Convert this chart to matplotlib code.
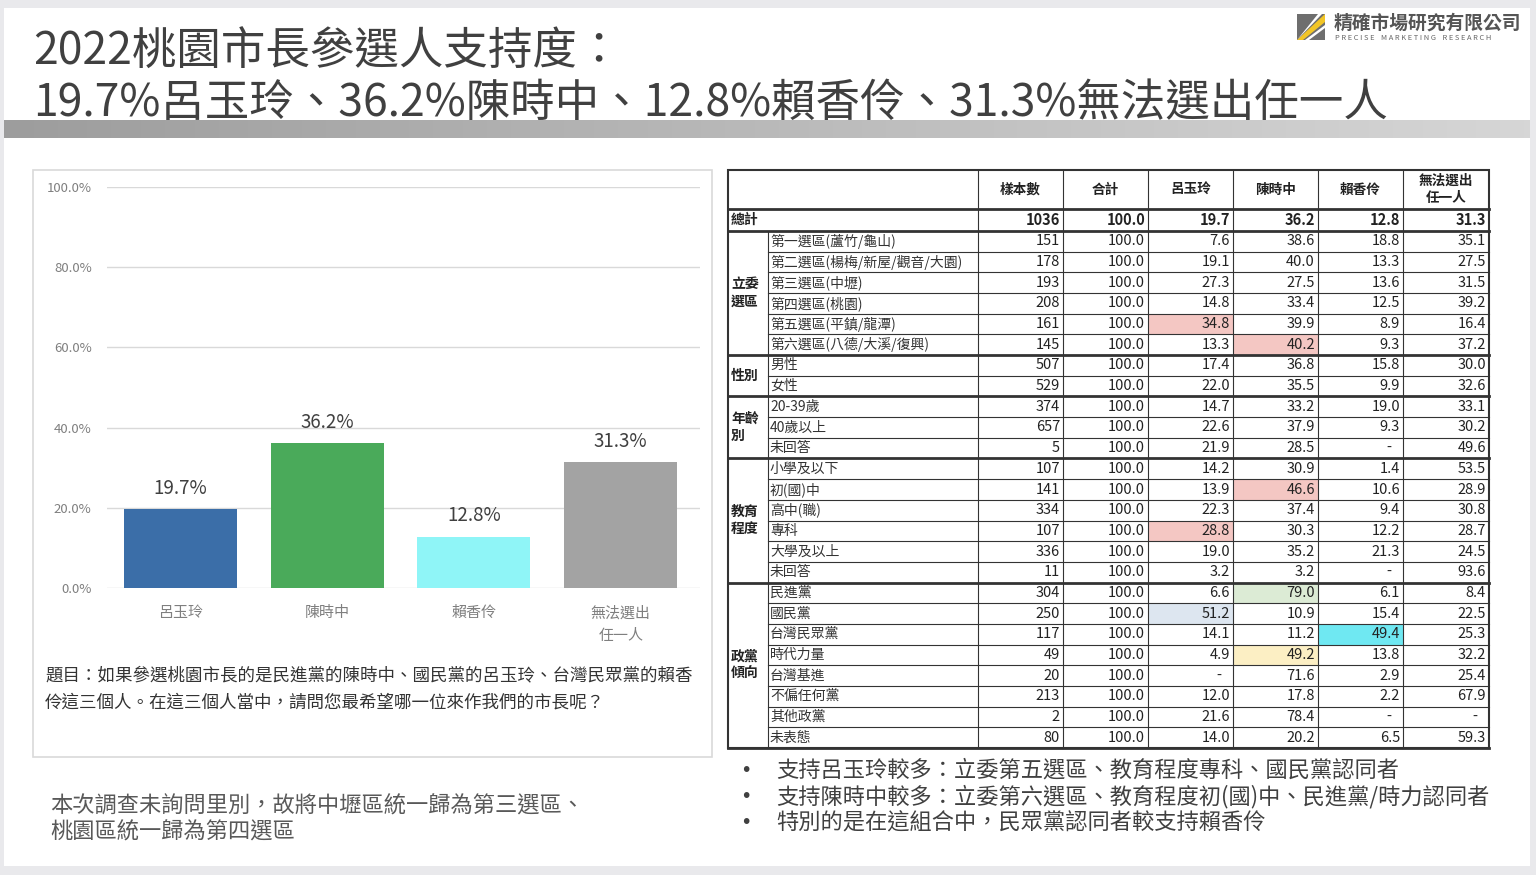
import matplotlib
matplotlib.use("Agg")
import matplotlib.pyplot as plt
import numpy as np
from matplotlib.patches import Rectangle, Polygon

plt.rcParams["font.family"] = ["Noto Sans CJK TC", "DejaVu Sans"]

# ---- bar chart data ----
candidates = ["呂玉玲", "陳時中", "賴香伶", "無法選出\n任一人"]
support = [19.7, 36.2, 12.8, 31.3]
bar_colors = ["#3b6ea8", "#4aaa5a", "#8ff5f7", "#a3a3a3"]
y_ticks = [0, 20, 40, 60, 80, 100]

# ---- crosstab data ----
col_headers = ["樣本數", "合計", "呂玉玲", "陳時中", "賴香伶", "無法選出\n任一人"]
total_row = [1036, 100.0, 19.7, 36.2, 12.8, 31.3]
group_names = ["立委\n選區", "性別", "年齡\n別", "教育\n程度", "政黨\n傾向"]
group_sizes = [6, 2, 3, 6, 8]
row_labels = [
    "第一選區(蘆竹/龜山)", "第二選區(楊梅/新屋/觀音/大園)", "第三選區(中壢)",
    "第四選區(桃園)", "第五選區(平鎮/龍潭)", "第六選區(八德/大溪/復興)",
    "男性", "女性",
    "20-39歲", "40歲以上", "未回答",
    "小學及以下", "初(國)中", "高中(職)", "專科", "大學及以上", "未回答",
    "民進黨", "國民黨", "台灣民眾黨", "時代力量", "台灣基進", "不偏任何黨",
    "其他政黨", "未表態",
]
sample_n = [151, 178, 193, 208, 161, 145, 507, 529, 374, 657, 5,
            107, 141, 334, 107, 336, 11, 304, 250, 117, 49, 20, 213, 2, 80]
total_pct = [100.0, 100.0, 100.0, 100.0, 100.0, 100.0, 100.0, 100.0, 100.0,
             100.0, 100.0, 100.0, 100.0, 100.0, 100.0, 100.0, 100.0, 100.0,
             100.0, 100.0, 100.0, 100.0, 100.0, 100.0, 100.0]
pct_lu = [7.6, 19.1, 27.3, 14.8, 34.8, 13.3, 17.4, 22.0, 14.7, 22.6, 21.9,
          14.2, 13.9, 22.3, 28.8, 19.0, 3.2, 6.6, 51.2, 14.1, 4.9, None,
          12.0, 21.6, 14.0]
pct_chen = [38.6, 40.0, 27.5, 33.4, 39.9, 40.2, 36.8, 35.5, 33.2, 37.9, 28.5,
            30.9, 46.6, 37.4, 30.3, 35.2, 3.2, 79.0, 10.9, 11.2, 49.2, 71.6,
            17.8, 78.4, 20.2]
pct_lai = [18.8, 13.3, 13.6, 12.5, 8.9, 9.3, 15.8, 9.9, 19.0, 9.3, None,
           1.4, 10.6, 9.4, 12.2, 21.3, None, 6.1, 15.4, 49.4, 13.8, 2.9,
           2.2, None, 6.5]
pct_none = [35.1, 27.5, 31.5, 39.2, 16.4, 37.2, 30.0, 32.6, 33.1, 30.2, 49.6,
            53.5, 28.9, 30.8, 28.7, 24.5, 93.6, 8.4, 22.5, 25.3, 32.2, 25.4,
            67.9, None, 59.3]
# (row, column) -> fill colour of the highlighted cells
highlights = {
    (4, 2): "#f4c7c3", (5, 3): "#f4c7c3", (12, 3): "#f4c7c3", (14, 2): "#f4c7c3",
    (17, 3): "#dcebd5", (18, 2): "#dde6f0", (19, 4): "#6fe8f2", (20, 3): "#fcefc4",
}

title_line1 = "2022桃園市長參選人支持度："
title_line2 = "19.7%呂玉玲、36.2%陳時中、12.8%賴香伶、31.3%無法選出任一人"
question = ("題目：如果參選桃園市長的是民進黨的陳時中、國民黨的呂玉玲、台灣民眾黨的賴香\n"
            "伶這三個人。在這三個人當中，請問您最希望哪一位來作我們的市長呢？")
note = "本次調查未詢問里別，故將中壢區統一歸為第三選區、\n桃園區統一歸為第四選區"
bullets = [
    "支持呂玉玲較多：立委第五選區、教育程度專科、國民黨認同者",
    "支持陳時中較多：立委第六選區、教育程度初(國)中、民進黨/時力認同者",
    "特別的是在這組合中，民眾黨認同者較支持賴香伶",
]

W, H = 1536, 875
fig = plt.figure(figsize=(W / 100, H / 100), dpi=100, facecolor="#e9e9ec")

# background axes in pixel coordinates
bg = fig.add_axes([0, 0, 1, 1])
bg.set_xlim(0, W)
bg.set_ylim(H, 0)
bg.axis("off")
bg.add_patch(Rectangle((4, 8), 1526, 858, facecolor="white", edgecolor="none"))

# grey gradient band under the title
grad = np.linspace(0, 1, 256).reshape(1, -1)
bg.imshow(grad, cmap=matplotlib.colors.LinearSegmentedColormap.from_list(
    "band", ["#9d9d9d", "#d6d6d6"]), extent=(4, 1530, 138, 120), aspect="auto", zorder=1)

bg.text(33, 52, title_line1, fontsize=32, fontweight="light", color="#404040",
        va="center", ha="left", zorder=3)
bg.text(33, 103, title_line2, fontsize=32, fontweight="light", color="#404040",
        va="center", ha="left", zorder=3)

# logo
bg.add_patch(Rectangle((1297, 14), 28, 26, facecolor="#6e6e6e", edgecolor="none"))
bg.add_patch(Polygon([(1297, 40), (1325, 14), (1325, 22), (1303, 40)], facecolor="#f2c526"))
bg.add_patch(Polygon([(1297, 40), (1318, 14), (1322, 14)], facecolor="white"))
bg.add_patch(Polygon([(1305, 40), (1325, 25), (1325, 28), (1309, 40)], facecolor="white"))
bg.text(1334, 23, "精確市場研究有限公司", fontsize=13.5, fontweight="bold", color="#555555",
        va="center", ha="left")
bg.text(1335, 38.5, "P R E C I S E    M A R K E T I N G    R E S E A R C H", fontsize=5.4,
        color="#666666", va="center", ha="left")

# left panel
bg.add_patch(Rectangle((33, 170), 679, 587, facecolor="white", edgecolor="#d9d9d9", lw=1.2))
bg.text(45, 689, question, fontsize=12.6, color="#333333", va="center", ha="left",
        linespacing=1.65)
bg.text(50, 819, note, fontsize=16, color="#595959", va="center", ha="left",
        linespacing=1.15)

for i, line in enumerate(bullets):
    y = 770 + i * 26.5
    bg.text(740, y, "•", fontsize=14, family="DejaVu Sans", color="#404040",
            va="center", ha="left")
    bg.text(776, y, line, fontsize=16, color="#404040", va="center", ha="left")

# bar chart
ax = fig.add_axes([107 / W, (H - 588) / H, 593 / W, 401 / H])
ax.set_facecolor("none")
x = np.arange(len(candidates))
ax.bar(x, support, width=0.77, color=bar_colors, zorder=3)
for xi, v in zip(x, support):
    ax.annotate(f"{v:.1f}%", (xi, v), xytext=(0, 15), textcoords="offset points",
                ha="center", va="center", fontsize=13.5, color="#404040")
ax.set_ylim(0, 100)
ax.set_xlim(-0.5, 3.54)
ax.set_yticks(y_ticks)
ax.set_yticklabels([f"{t:.1f}%" for t in y_ticks])
ax.set_xticks(x)
ax.set_xticklabels(candidates)
for lab in ax.get_xticklabels():
    lab.set_linespacing(1.75)
ax.tick_params(axis="y", length=0, pad=11, labelsize=9.5, labelcolor="#7f7f7f")
ax.tick_params(axis="x", length=0, pad=13, labelsize=10.8, labelcolor="#7f7f7f")
ax.grid(axis="y", color="#d9d9d9", lw=1, zorder=0)
for s in ax.spines.values():
    s.set_visible(False)

# crosstab table
x_edges = [728, 768, 978, 1063, 1148, 1233, 1318, 1403, 1489]
top, head_bot, total_bot, bottom = 170, 209, 231, 748
n_rows = len(row_labels)
row_h = (bottom - total_bot) / n_rows
line_c = "#333333"

columns = [sample_n, total_pct, pct_lu, pct_chen, pct_lai, pct_none]

for (r, c), col in highlights.items():
    y0 = total_bot + r * row_h
    bg.add_patch(Rectangle((x_edges[c + 2], y0), x_edges[c + 3] - x_edges[c + 2], row_h,
                           facecolor=col, edgecolor="none", zorder=1))

# header
for c, h in enumerate(col_headers):
    xc = (x_edges[c + 2] + x_edges[c + 3]) / 2
    bg.text(xc, (top + head_bot) / 2, h, fontsize=9.8, fontweight="bold", ha="center",
            va="center", color="#222222", linespacing=1.3, zorder=3)
bg.text(731, (head_bot + total_bot) / 2, "總計", fontsize=10, fontweight="bold",
        ha="left", va="center", color="#222222", zorder=3)
for c, v in enumerate(total_row):
    txt = f"{v}" if c == 0 else f"{v:.1f}"
    bg.text(x_edges[c + 3] - 3, (head_bot + total_bot) / 2, txt, fontsize=10.5,
            fontweight="bold", ha="right", va="center", color="#222222", zorder=3)

# body rows
for r, label in enumerate(row_labels):
    yc = total_bot + (r + 0.5) * row_h
    bg.text(770, yc, label, fontsize=10, ha="left", va="center", color="#333333", zorder=3)
    for c, col in enumerate(columns):
        v = col[r]
        if v is None:
            txt = "-"
        elif c == 0:
            txt = f"{v}"
        else:
            txt = f"{v:.1f}"
        xr = x_edges[c + 3] - 3 if v is not None else x_edges[c + 3] - 12
        bg.text(xr, yc, txt, fontsize=10.5, ha="right", va="center", color="#222222", zorder=3)

# groups
start = 0
for g, size in zip(group_names, group_sizes):
    y0 = total_bot + start * row_h
    y1 = total_bot + (start + size) * row_h
    bg.text(731, (y0 + y1) / 2, g, fontsize=10, fontweight="bold", ha="left", va="center",
            color="#222222", linespacing=1.35, zorder=3)
    for k in range(1, size):
        yy = y0 + k * row_h
        bg.plot([768, 1489], [yy, yy], color=line_c, lw=0.8, zorder=2)
    bg.plot([728, 1489], [y1, y1], color=line_c, lw=2, zorder=2)
    start += size

bg.plot([728, 1489], [head_bot, head_bot], color=line_c, lw=2, zorder=2)
bg.plot([728, 1489], [total_bot, total_bot], color=line_c, lw=2, zorder=2)
bg.plot([768, 768], [total_bot, bottom], color=line_c, lw=0.8, zorder=2)
for xe in x_edges[2:-1]:
    bg.plot([xe, xe], [top, bottom], color=line_c, lw=0.8, zorder=2)
bg.add_patch(Rectangle((728, top), 1489 - 728, bottom - top, facecolor="none",
                       edgecolor=line_c, lw=1.5, zorder=2))

fig.savefig("out.png", dpi=100, facecolor=fig.get_facecolor())
